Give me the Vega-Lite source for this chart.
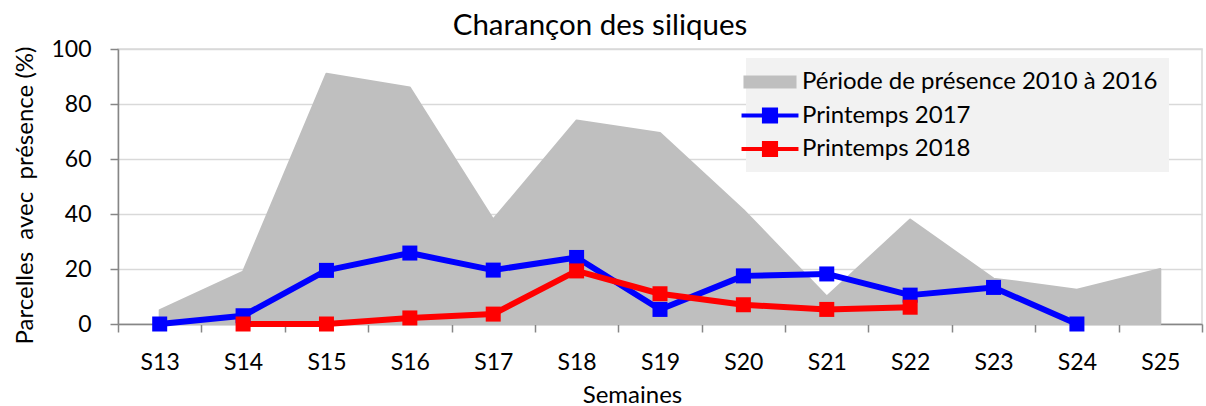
{
  "$schema": "https://vega.github.io/schema/vega-lite/v6.json",
  "width": 1084,
  "height": 275,
  "autosize": {"type": "none"},
  "padding": {"left": 118, "top": 49, "right": 4, "bottom": 82},
  "background": "white",
  "title": {
    "text": "Charançon des siliques",
    "font": "Lato",
    "fontSize": 29.5,
    "fontWeight": "normal",
    "color": "black",
    "anchor": "middle",
    "frame": "group",
    "baseline": "alphabetic",
    "offset": 14,
    "dx": -60,
    "dy": 40
  },
  "data": {
    "values": [
      {"semaine": "S13", "serie": "Période de présence 2010 à 2016", "valeur": 5},
      {"semaine": "S14", "serie": "Période de présence 2010 à 2016", "valeur": 19},
      {"semaine": "S15", "serie": "Période de présence 2010 à 2016", "valeur": 91},
      {"semaine": "S16", "serie": "Période de présence 2010 à 2016", "valeur": 86},
      {"semaine": "S17", "serie": "Période de présence 2010 à 2016", "valeur": 38},
      {"semaine": "S18", "serie": "Période de présence 2010 à 2016", "valeur": 74},
      {"semaine": "S19", "serie": "Période de présence 2010 à 2016", "valeur": 69.5},
      {"semaine": "S20", "serie": "Période de présence 2010 à 2016", "valeur": 41.5},
      {"semaine": "S21", "serie": "Période de présence 2010 à 2016", "valeur": 10},
      {"semaine": "S22", "serie": "Période de présence 2010 à 2016", "valeur": 38},
      {"semaine": "S23", "serie": "Période de présence 2010 à 2016", "valeur": 16.5},
      {"semaine": "S24", "serie": "Période de présence 2010 à 2016", "valeur": 12.5},
      {"semaine": "S25", "serie": "Période de présence 2010 à 2016", "valeur": 20},
      {"semaine": "S13", "serie": "Printemps 2017", "valeur": 0},
      {"semaine": "S14", "serie": "Printemps 2017", "valeur": 3},
      {"semaine": "S15", "serie": "Printemps 2017", "valeur": 19.5},
      {"semaine": "S16", "serie": "Printemps 2017", "valeur": 25.8},
      {"semaine": "S17", "serie": "Printemps 2017", "valeur": 19.6},
      {"semaine": "S18", "serie": "Printemps 2017", "valeur": 24.2},
      {"semaine": "S19", "serie": "Printemps 2017", "valeur": 5.3},
      {"semaine": "S20", "serie": "Printemps 2017", "valeur": 17.5},
      {"semaine": "S21", "serie": "Printemps 2017", "valeur": 18.2},
      {"semaine": "S22", "serie": "Printemps 2017", "valeur": 10.5},
      {"semaine": "S23", "serie": "Printemps 2017", "valeur": 13.3},
      {"semaine": "S24", "serie": "Printemps 2017", "valeur": 0},
      {"semaine": "S14", "serie": "Printemps 2018", "valeur": 0},
      {"semaine": "S15", "serie": "Printemps 2018", "valeur": 0},
      {"semaine": "S16", "serie": "Printemps 2018", "valeur": 2.2},
      {"semaine": "S17", "serie": "Printemps 2018", "valeur": 3.6},
      {"semaine": "S18", "serie": "Printemps 2018", "valeur": 19.3},
      {"semaine": "S19", "serie": "Printemps 2018", "valeur": 11},
      {"semaine": "S20", "serie": "Printemps 2018", "valeur": 7},
      {"semaine": "S21", "serie": "Printemps 2018", "valeur": 5.3},
      {"semaine": "S22", "serie": "Printemps 2018", "valeur": 6.1}
    ]
  },
  "encoding": {
    "x": {
      "field": "semaine",
      "type": "nominal",
      "bandPosition": 0.5,
      "sort": ["S13","S14","S15","S16","S17","S18","S19","S20","S21","S22","S23","S24","S25"],
      "scale": {"type": "band", "paddingInner": 0, "paddingOuter": 0},
      "axis": {
        "title": "Semaines",
        "titleFont": "Lato",
        "titleFontSize": 24,
        "titleFontWeight": "normal",
        "titleColor": "black",
        "titleBaseline": "alphabetic",
        "titleX": 514,
        "titleY": 78,
        "titleAnchor": null,
        "labelFont": "Lato",
        "labelFontSize": 23,
        "labelColor": "black",
        "labelAngle": 0,
        "labelPadding": 19,
        "tickBand": "extent",
        "tickSize": 8,
        "tickColor": "#868686",
        "tickWidth": 1.5,
        "domainColor": "#868686",
        "domainWidth": 1.5,
        "grid": false
      }
    },
    "y": {
      "field": "valeur",
      "type": "quantitative",
      "scale": {"domain": [0, 100], "nice": false},
      "axis": {
        "values": [0, 20, 40, 60, 80, 100],
        "title": "Parcelles\u00a0 avec\u00a0 présence (%)",
        "titleFont": "Lato",
        "titleFontSize": 24,
        "titleFontWeight": "normal",
        "titleColor": "black",
        "titleAngle": -90,
        "titleBaseline": "alphabetic",
        "titleAlign": "center",
        "titleX": -86,
        "titleY": 146,
        "labelFont": "Lato",
        "labelFontSize": 23,
        "labelColor": "black",
        "labelPadding": 19,
        "tickSize": 8,
        "tickColor": "#868686",
        "tickWidth": 1.5,
        "domainColor": "#868686",
        "domainWidth": 1.5,
        "grid": true,
        "gridColor": "#d9d9d9",
        "gridWidth": 1.5
      }
    },
    "color": {
      "field": "serie",
      "type": "nominal",
      "scale": {
        "domain": ["Période de présence 2010 à 2016", "Printemps 2017", "Printemps 2018"],
        "range": ["#BFBFBF", "#0000FF", "#FF0000"]
      },
      "legend": {
        "title": null,
        "orient": "none",
        "legendX": 628,
        "legendY": 9,
        "direction": "vertical",
        "fillColor": "#f2f2f2",
        "padding": 11,
        "labelFont": "Lato",
        "labelFontSize": 24,
        "labelColor": "black",
        "labelOffset": 19,
        "labelLimit": 500,
        "rowPadding": 8.5,
        "symbolSize": 676,
        "symbolStrokeWidth": 0,
        "encode": {
          "symbols": {
            "update": {
              "shape": {"signal": "datum.value === 'Période de présence 2010 à 2016' ? 'M-2.04,-0.5H2.04V0.5H-2.04Z' : 'M-2.19,-0.15H2.19V0.15H-2.19Z M-0.62,-0.62H0.62V0.62H-0.62Z'"},
              "fill": {"signal": "scale('color', datum.value)"},
              "stroke": {"value": "transparent"},
              "opacity": {"value": 1}
            }
          }
        }
      }
    }
  },
  "layer": [
    {
      "transform": [{"filter": "datum.serie === 'Période de présence 2010 à 2016'"}],
      "mark": {"type": "area", "opacity": 1, "stroke": "#BFBFBF", "strokeWidth": 2, "strokeJoin": "round"}
    },
    {
      "transform": [{"filter": "datum.serie !== 'Période de présence 2010 à 2016'"}],
      "mark": {"type": "line", "strokeWidth": 6, "strokeJoin": "round"}
    },
    {
      "transform": [{"filter": "datum.serie !== 'Période de présence 2010 à 2016'"}],
      "mark": {"type": "point", "shape": "square", "filled": true, "opacity": 1, "size": 225}
    }
  ],
  "config": {
    "view": {"stroke": "#d9d9d9", "strokeWidth": 1.5}
  }
}
